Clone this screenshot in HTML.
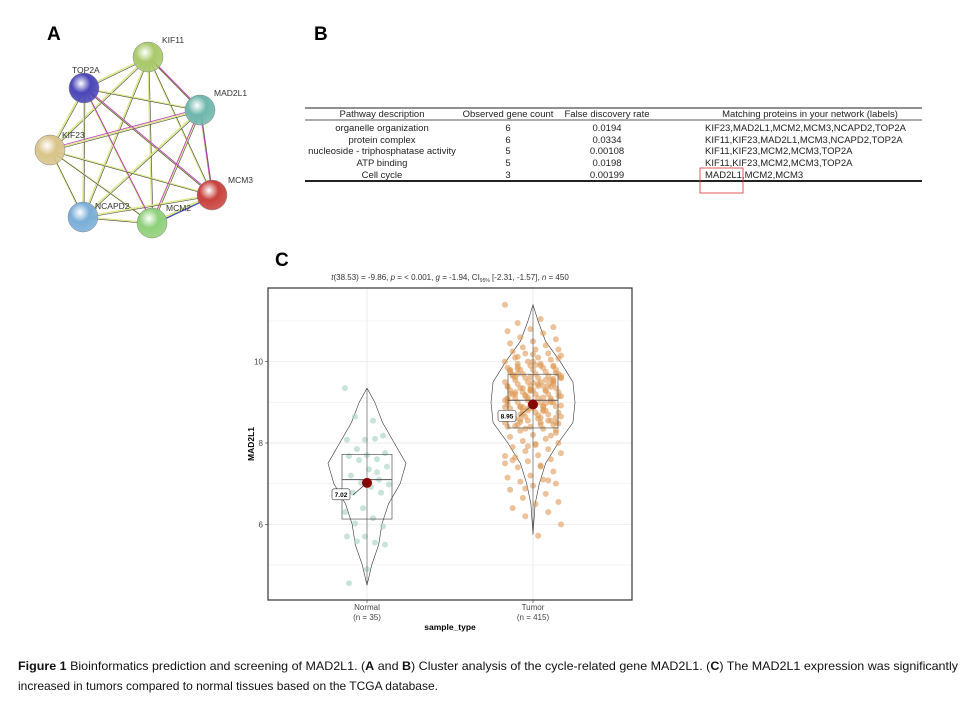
<!DOCTYPE html>
<html><head><meta charset="utf-8"><style>
body{margin:0;background:#fff;}
svg{display:block;font-family:"Liberation Sans",sans-serif;}
</style></head><body>
<svg id="fig" width="980" height="710" viewBox="0 0 980 710" xmlns="http://www.w3.org/2000/svg">
<rect width="980" height="710" fill="#fff"/>
<text x="47" y="40" font-size="19" font-weight="bold">A</text>
<text x="314" y="40" font-size="19" font-weight="bold">B</text>
<text x="275" y="266" font-size="19" font-weight="bold">C</text>

<g id="network"></g>

<g font-size="9.5" fill="#222">
<line x1="305" y1="108" x2="922" y2="108" stroke="#222" stroke-width="1"/>
<line x1="305" y1="120" x2="922" y2="120" stroke="#222" stroke-width="0.8"/>
<line x1="305" y1="181" x2="922" y2="181" stroke="#222" stroke-width="2"/>
<g text-anchor="middle">
<text x="382" y="117">Pathway description</text>
<text x="508" y="117">Observed gene count</text>
<text x="607" y="117">False discovery rate</text>
<text x="810" y="117">Matching proteins in your network (labels)</text>
<text x="382" y="131">organelle organization</text><text x="508" y="131">6</text><text x="607" y="131">0.0194</text>
<text x="382" y="143">protein complex</text><text x="508" y="143">6</text><text x="607" y="143">0.0334</text>
<text x="382" y="154">nucleoside - triphosphatase activity</text><text x="508" y="154">5</text><text x="607" y="154">0.00108</text>
<text x="382" y="166">ATP binding</text><text x="508" y="166">5</text><text x="607" y="166">0.0198</text>
<text x="382" y="178">Cell cycle</text><text x="508" y="178">3</text><text x="607" y="178">0.00199</text>
</g>
<text x="705" y="131">KIF23,MAD2L1,MCM2,MCM3,NCAPD2,TOP2A</text>
<text x="705" y="143">KIF11,KIF23,MAD2L1,MCM3,NCAPD2,TOP2A</text>
<text x="705" y="154">KIF11,KIF23,MCM2,MCM3,TOP2A</text>
<text x="705" y="166">KIF11,KIF23,MCM2,MCM3,TOP2A</text>
<text x="705" y="178">MAD2L1,MCM2,MCM3</text>
<rect x="700" y="168" width="43" height="25" fill="none" stroke="#d33" stroke-width="0.8"/>
</g>

<text x="450" y="280" font-size="8" text-anchor="middle" fill="#333"><tspan font-style="italic">t</tspan>(38.53) = -9.86, <tspan font-style="italic">p</tspan> = &lt; 0.001, <tspan font-style="italic">g</tspan> = -1.94, CI<tspan font-size="5" dy="2">95%</tspan><tspan dy="-2"> [-2.31, -1.57], </tspan><tspan font-style="italic">n</tspan> = 450</text>
<g id="chart"></g>

<text x="18" y="670" font-size="12" textLength="940" lengthAdjust="spacingAndGlyphs" fill="#111"><tspan font-weight="bold">Figure 1</tspan> Bioinformatics prediction and screening of MAD2L1. (<tspan font-weight="bold">A</tspan> and <tspan font-weight="bold">B</tspan>) Cluster analysis of the cycle-related gene MAD2L1. (<tspan font-weight="bold">C</tspan>) The MAD2L1 expression was significantly</text>
<text x="18" y="690" font-size="12" textLength="420" lengthAdjust="spacingAndGlyphs" fill="#111">increased in tumors compared to normal tissues based on the TCGA database.</text>
</svg>
<script>
const NS="http://www.w3.org/2000/svg";
function mk(tag,attrs,parent){const e=document.createElementNS(NS,tag);for(const k in attrs)e.setAttribute(k,attrs[k]);parent.appendChild(e);return e;}

// ---- network ----
const nodeNames=["KIF11","TOP2A","MAD2L1","KIF23","MCM3","NCAPD2","MCM2"];
const nodeColors=["#a9c96a","#4b47b8","#6fb7ad","#d9c48a","#c8423e","#7aaed8","#8fd07a"];
const nodeX=[148,84,200,50,212,83,152];
const nodeY=[57,88,110,150,195,217,223];
const net=document.getElementById("network");
const defs=mk("defs",{},net);
nodeColors.forEach((c,i)=>{const g=mk("radialGradient",{id:"g"+i,cx:"0.4",cy:"0.35",r:"0.7"},defs);
mk("stop",{offset:"0","stop-color":"#fff"},g);mk("stop",{offset:"0.45","stop-color":c},g);mk("stop",{offset:"1","stop-color":c,"stop-opacity":"0.85"},g);});
for(let i=0;i<7;i++)for(let j=i+1;j<7;j++){
  const l1=mk("line",{x1:nodeX[i],y1:nodeY[i],x2:nodeX[j],y2:nodeY[j],stroke:"#dfe88a","stroke-width":1.6},net);
  
  
  mk("line",{x1:nodeX[i],y1:nodeY[i],x2:nodeX[j],y2:nodeY[j],stroke:"#444","stroke-width":0.6,transform:"translate(1,1)"},net);
}
[[0,2],[1,4],[2,3],[2,6],[2,4],[1,6]].forEach(([i,j])=>mk("line",{x1:nodeX[i],y1:nodeY[i]-1.5,x2:nodeX[j],y2:nodeY[j]-1.5,stroke:"#c040c0","stroke-width":0.9},net));
mk("line",{x1:nodeX[6],y1:nodeY[6]+2,x2:nodeX[4],y2:nodeY[4]+2,stroke:"#4050d0","stroke-width":1.2},net);
const labOff=[[14,-14],[-12,-15],[14,-14],[12,-12],[16,-12],[12,-8],[14,-12]];
nodeNames.forEach((n,i)=>{
  const c=mk("circle",{cx:nodeX[i],cy:nodeY[i],r:15,fill:"url(#g"+i+")",stroke:"#888","stroke-width":0.5},net);
  
  
  const t=mk("text",{x:nodeX[i]+labOff[i][0],y:nodeY[i]+labOff[i][1],"font-size":8.5,fill:"#333"},net);
  t.textContent=n;
  
  
});

// ---- violin chart ----
const groups=["Normal","Tumor"];
const groupN=[35,415];
const meanVals=[7.02,8.95];
const boxQ1=[6.13,8.37];
const boxMed=[7.1,9.05];
const boxQ3=[7.72,9.69];
const whiskLo=[4.5,5.75];
const whiskHi=[9.35,11.4];
const yTicks=[6,8,10];
const normalVals=[9.35,8.55,8.65,8.18,8.08,8.08,8.1,7.85,7.75,7.7,7.68,7.6,7.58,7.42,7.35,7.2,7.1,7.02,6.98,6.92,6.78,6.78,6.4,6.3,6.15,6.02,5.95,5.7,5.7,5.55,5.58,5.5,4.9,4.55,7.28];
const tumorVals=[11.4,11.05,10.95,10.85,10.8,10.75,10.7,10.6,10.55,10.5,10.45,10.4,10.35,10.3,10.3,10.25,10.2,10.2,10.15,10.1,10.1,10.05,10.0,10.0,9.95,9.95,9.9,9.9,9.85,9.85,9.8,9.8,9.8,9.75,9.75,9.7,9.7,9.7,9.65,9.65,9.6,9.6,9.6,9.55,9.55,9.5,9.5,9.5,9.45,9.45,9.4,9.4,9.4,9.35,9.35,9.3,9.3,9.3,9.25,9.25,9.2,9.2,9.2,9.15,9.15,9.1,9.1,9.1,9.05,9.05,9.0,9.0,9.0,8.95,8.95,8.9,8.9,8.9,8.85,8.85,8.8,8.8,8.75,8.75,8.7,8.7,8.65,8.65,8.6,8.6,8.55,8.55,8.5,8.5,8.45,8.45,8.4,8.4,8.35,8.3,8.25,8.2,8.15,8.1,8.05,8.0,7.95,7.9,7.85,7.8,7.75,7.7,7.65,7.6,7.55,7.5,7.45,7.4,7.3,7.2,7.15,7.1,7.05,7.0,6.95,6.85,6.75,6.65,6.55,6.5,6.4,6.3,6.2,6.0,5.72,9.62,9.38,9.12,8.88,8.62,9.82,9.58,9.28,9.02,8.78,8.52,9.72,9.48,9.22,8.98,8.72,10.08,9.92,9.68,9.42,9.18,8.92,8.68,8.42,8.18,7.92,7.68,7.42,9.88,9.52,9.32,9.08,8.82,8.58,8.32,10.18,9.78,9.28,8.88,8.48,7.98,7.58,7.08,6.88,9.6,9.4,9.2,9.0,8.8,8.6,9.9,9.7,9.5,9.3,9.1,8.9,8.7,8.5,10.0,9.8,9.55,9.35,9.15,8.95,8.75,8.55,8.35,9.65,9.45,9.25,9.05,8.85,8.65,8.45,10.12,9.88,9.62,9.38,9.12,8.88,8.62];
const violinLevels=[4.5,5.0,5.5,6.0,6.5,7.0,7.5,8.0,8.5,9.0,9.35];
const normalDensity=[0,0.12,0.3,0.38,0.55,0.85,1.0,0.7,0.4,0.2,0];
const tumorLevels=[5.75,6.5,7.0,7.5,8.0,8.5,9.0,9.5,10.0,10.5,11.0,11.4];
const tumorDensity=[0,0.05,0.15,0.3,0.6,0.95,1.0,0.95,0.65,0.3,0.12,0];

const P={l:268,r:632,t:288,b:600};
const yS=v=>443-(v-8)*40.67;
const xS=i=>[367,533][i];
const ch=document.getElementById("chart");
mk("rect",{x:P.l,y:P.t,width:P.r-P.l,height:P.b-P.t,fill:"#fff"},ch);
for(let v=5;v<=11;v++){const g=mk("line",{x1:P.l,x2:P.r,y1:yS(v),y2:yS(v),stroke:"#ebebeb","stroke-width":v%2==0?0.9:0.5},ch);
 }
groups.forEach((g,i)=>mk("line",{x1:xS(i),x2:xS(i),y1:P.t,y2:P.b,stroke:"#ebebeb","stroke-width":0.9},ch));
yTicks.forEach(t=>{
 const tx=mk("text",{x:P.l-5,y:yS(t)+3,"font-size":8,"text-anchor":"end",fill:"#444"},ch);tx.textContent=t;
 
 mk("line",{x1:P.l-3,x2:P.l,y1:yS(t),y2:yS(t),stroke:"#333","stroke-width":0.6},ch);
});
function violin(i,lv,dn,maxW){
 let l="",r="";
 lv.forEach((v,k)=>{l+=(k?"L":"M")+(xS(i)-dn[k]*maxW)+","+yS(v);});
 for(let k=lv.length-1;k>=0;k--)r+="L"+(xS(i)+dn[k]*maxW)+","+yS(lv[k]);
 const p=mk("path",{d:l+r+"Z",fill:"none",stroke:"#333","stroke-width":0.6},ch);
 
}
violin(0,violinLevels,normalDensity,39);
violin(1,tumorLevels,tumorDensity,42);
function jit(k){return ((k*37)%23)/22-0.5;}
[[normalVals,"#a8d5c4",0.65,44],[tumorVals,"#dd9a55",0.6,56]].forEach(([vals,col,op,w],i)=>{
 vals.forEach((v,k)=>{const c=mk("circle",{cx:xS(i)+jit(k)*w,cy:yS(v),r:3,fill:col,"fill-opacity":op},ch);
 });
});
groups.forEach((g,i)=>{
 mk("line",{x1:xS(i),x2:xS(i),y1:yS(whiskLo[i]),y2:yS(whiskHi[i]),stroke:"#555","stroke-width":0.6},ch);
 const b=mk("rect",{x:xS(i)-25,y:yS(boxQ3[i]),width:50,height:yS(boxQ1[i])-yS(boxQ3[i]),fill:"none",stroke:"#555","stroke-width":0.7},ch);
 
 mk("line",{x1:xS(i)-25,x2:xS(i)+25,y1:yS(boxMed[i]),y2:yS(boxMed[i]),stroke:"#555","stroke-width":1},ch);
 const m=mk("circle",{cx:xS(i),cy:yS(meanVals[i]),r:5,fill:"#8b0000"},ch);
 
 const lx=xS(i)-26,ly=yS(meanVals[i])+15;
 mk("line",{x1:xS(i),y1:yS(meanVals[i]),x2:lx+12,y2:ly-3,stroke:"#333","stroke-width":0.6},ch);
 mk("rect",{x:lx-9,y:ly-9,width:18,height:11,rx:2,fill:"#fff",stroke:"#333","stroke-width":0.6},ch);
 const lt=mk("text",{x:lx,y:ly-1,"font-size":6.5,"font-weight":"bold","text-anchor":"middle"},ch);lt.textContent=meanVals[i].toFixed(2);
 
 const t1=mk("text",{x:xS(i),y:P.b+10,"font-size":8,"text-anchor":"middle",fill:"#444"},ch);t1.textContent=g;
 
 const t2=mk("text",{x:xS(i),y:P.b+20,"font-size":8,"text-anchor":"middle",fill:"#444"},ch);t2.textContent="(n = "+groupN[i]+")";
 mk("line",{x1:xS(i),x2:xS(i),y1:P.b,y2:P.b+3,stroke:"#333","stroke-width":0.6},ch);
});
const fr=mk("rect",{x:P.l,y:P.t,width:P.r-P.l,height:P.b-P.t,fill:"none",stroke:"#333","stroke-width":1.2},ch);

const xt=mk("text",{x:450,y:630,"font-size":8.5,"font-weight":"bold","text-anchor":"middle"},ch);xt.textContent="sample_type";

const yt=mk("text",{x:0,y:0,"font-size":8.5,"font-weight":"bold","text-anchor":"middle",transform:"translate(254,444) rotate(-90)"},ch);yt.textContent="MAD2L1";

</script>
</body></html>
